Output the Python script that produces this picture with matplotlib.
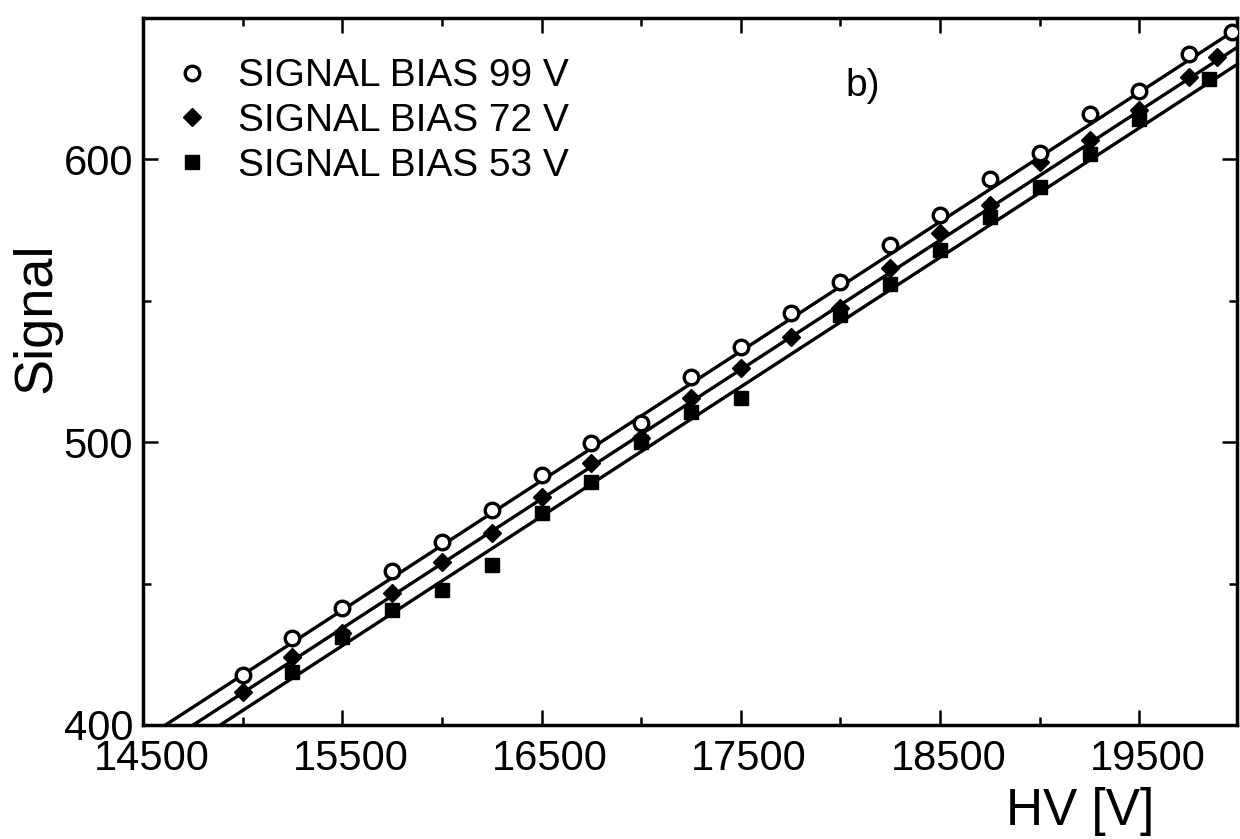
import matplotlib
matplotlib.use("Agg")
import matplotlib.pyplot as plt
import matplotlib.transforms as mtransforms
from matplotlib.ticker import FixedLocator
import numpy as np

plt.rcParams['font.family'] = ['Liberation Sans', 'DejaVu Sans']

# Measured signal versus high voltage for three bias settings
hv_99 = [15000, 15250, 15500, 15750, 16000, 16250, 16500, 16750, 17000, 17250,
         17500, 17750, 18000, 18250, 18500, 18750, 19000, 19250, 19500, 19750, 19965]
sig_99 = [417.7, 430.8, 441.4, 454.5, 464.8, 476.0, 488.5, 499.8, 506.9, 523.2,
          533.8, 545.8, 556.8, 569.9, 580.5, 592.9, 602.1, 615.9, 624.1, 637.2, 645.0]

hv_72 = [15000, 15250, 15500, 15750, 16000, 16250, 16500, 16750, 17000, 17250,
         17500, 17750, 18000, 18250, 18500, 18750, 19000, 19250, 19500, 19750, 19890]
sig_72 = [411.8, 424.1, 432.5, 446.6, 457.6, 468.0, 480.7, 492.6, 501.5, 515.8,
          526.4, 537.3, 547.6, 561.5, 574.0, 584.0, 599.2, 607.0, 617.5, 629.0, 636.1]

hv_53 = [15250, 15500, 15750, 16000, 16250, 16500, 16750, 17000, 17250, 17500,
         18000, 18250, 18500, 18750, 19000, 19250, 19500, 19850]
sig_53 = [418.8, 431.0, 440.7, 447.8, 456.6, 475.0, 486.1, 500.2, 510.8, 515.8,
          545.1, 556.1, 568.1, 579.5, 590.1, 601.8, 614.2, 628.3]

# Linear fits: signal at 14500 V and slope (signal per volt)
fit_at_14500 = [394.83, 388.47, 382.24]
fit_slope = [0.04578, 0.04574, 0.04578]

labels = ['SIGNAL BIAS 99 V', 'SIGNAL BIAS 72 V', 'SIGNAL BIAS 53 V']
x_major = [14500, 15500, 16500, 17500, 18500, 19500]
x_minor = [15000, 16000, 17000, 18000, 19000]
y_major = [400, 500, 600]
y_minor = [450, 550]

W, H = 1240, 839
fig = plt.figure(figsize=(W / 100, H / 100), dpi=100)
ax = fig.add_axes([143 / W, 1 - 725 / H, (1237 - 143) / W, (725 - 18) / H])

x_lo, x_hi = 14500, 19990
ax.set_xlim(x_lo, x_hi)
ax.set_ylim(400, 650)

line_x = np.linspace(x_lo, x_hi, 200)
for a, b in zip(fit_at_14500, fit_slope):
    ax.plot(line_x, a + b * (line_x - 14500), color='black', lw=2.4, zorder=2)

h1, = ax.plot(hv_99, sig_99, ls='none', marker='o', ms=10.5, mfc='white',
              mec='black', mew=2.4, zorder=4, label=labels[0])
h2, = ax.plot(hv_72, sig_72, ls='none', marker='D', ms=9, mfc='black',
              mec='black', mew=1, zorder=3, label=labels[1])
h3, = ax.plot(hv_53, sig_53, ls='none', marker='s', ms=10, mfc='black',
              mec='black', mew=1, zorder=3, label=labels[2])

for s in ax.spines.values():
    s.set_linewidth(2.5)

ax.xaxis.set_major_locator(FixedLocator(x_major))
ax.xaxis.set_minor_locator(FixedLocator(x_minor))
ax.yaxis.set_major_locator(FixedLocator(y_major))
ax.yaxis.set_minor_locator(FixedLocator(y_minor))
ax.tick_params(which='both', direction='in', top=True, right=True, width=1.8,
               labelsize=30)
ax.tick_params(which='major', length=11)
ax.tick_params(which='minor', length=6)
ax.tick_params(axis='y', pad=7)
ax.tick_params(axis='x', pad=10)

fig.text(36 / W, 1 - 318 / H, 'Signal', rotation=90, ha='center', va='center',
         fontsize=39)
fig.text(1080 / W, 1 - 812 / H, 'HV [V]', ha='center', va='center', fontsize=37)
fig.text(845 / W, 1 - 96 / H, 'b)', ha='left', va='baseline', fontsize=28)

ax.legend(handles=[h1, h2, h3], loc='upper left',
          bbox_to_anchor=(173 / W, 1 - 58.5 / H), bbox_transform=fig.transFigure,
          frameon=False, fontsize=28, borderpad=0, borderaxespad=0,
          handlelength=1.0, handletextpad=0.66, labelspacing=0.22, numpoints=1)

# nudge the HV tick labels slightly right of their ticks
fig.canvas.draw()
shift = mtransforms.ScaledTranslation(6 / 72, 0, fig.dpi_scale_trans)
for tick in ax.xaxis.get_major_ticks():
    tick.label1.set_transform(tick.label1.get_transform() + shift)

fig.savefig('out.png', dpi=100)
